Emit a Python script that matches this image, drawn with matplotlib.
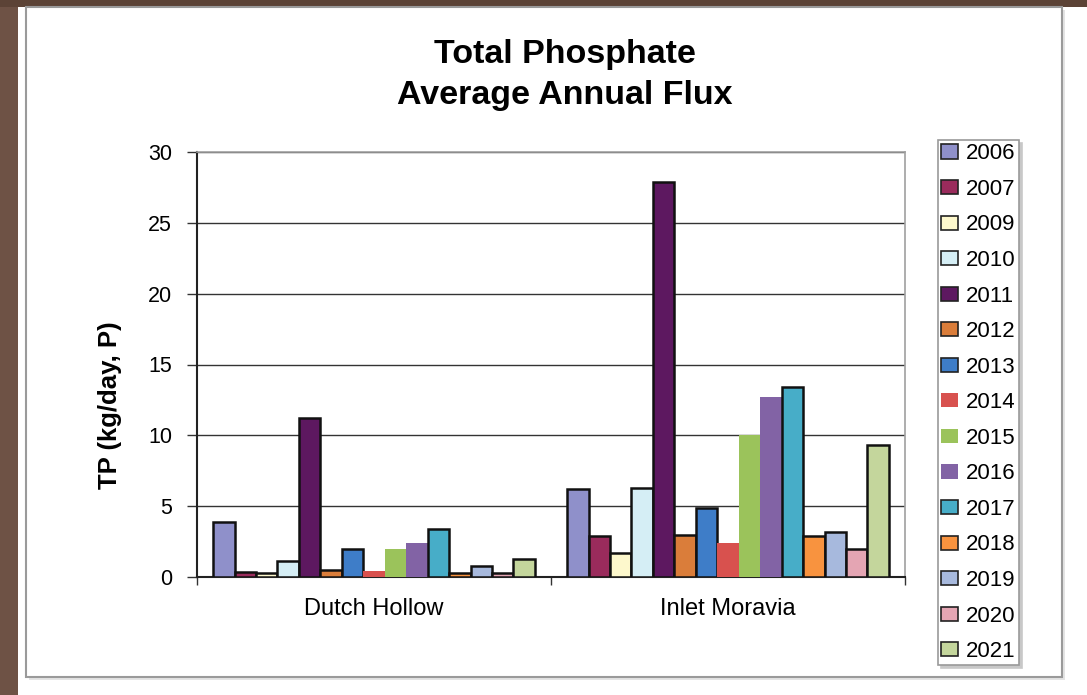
import numpy as np
import matplotlib
matplotlib.use('agg')
import matplotlib.pyplot as plt
from matplotlib.patches import Rectangle, Patch

plt.rcParams['font.family'] = ['Liberation Sans', 'DejaVu Sans']

# data
sites = ["Dutch Hollow", "Inlet Moravia"]
years = ["2006", "2007", "2009", "2010", "2011", "2012", "2013", "2014",
         "2015", "2016", "2017", "2018", "2019", "2020", "2021"]
dutch_hollow = [3.9, 0.35, 0.3, 1.1, 11.2, 0.5, 2.0, 0.45, 2.0, 2.4, 3.4, 0.25, 0.8, 0.25, 1.3]
inlet_moravia = [6.2, 2.9, 1.7, 6.3, 27.9, 3.0, 4.9, 2.4, 10.0, 12.7, 13.4, 2.9, 3.2, 2.0, 9.3]

colors = ["#8F90CA", "#9A2B5C", "#FDF8CC", "#D5EEF5", "#5D1860", "#DA7D3A",
          "#3E7DC8", "#D8514E", "#9BC35B", "#8263A5", "#47ADC8", "#F8933F",
          "#A7B9DD", "#E4A5B3", "#C4D69C"]
# series drawn without a dark outline in the reference
no_edge = {"2014", "2015", "2016"}

W, H = 1087, 695
fig = plt.figure(figsize=(W / 100, H / 100), dpi=100)
fig.patch.set_facecolor("white")

def px_rect(x0, y0, x1, y1, **kw):
    # rectangle given in pixel coords (top-left origin)
    r = Rectangle((x0 / W, 1 - y1 / H), (x1 - x0) / W, (y1 - y0) / H,
                  transform=fig.transFigure, zorder=0, **kw)
    fig.patches.append(r)

# brown page background strips
px_rect(0, 0, 18, H, facecolor="#6E5245", edgecolor="none")
px_rect(0, 0, W, 7, facecolor="#5C4336", edgecolor="none")
# chart frame with a light shadow
px_rect(29, 10, 1065, 680, facecolor="#e4e4e4", edgecolor="none")
px_rect(26, 7, 1062, 677, facecolor="white", edgecolor="#9a9a9a", linewidth=1.5)

ax = fig.add_axes([197 / W, 1 - 577 / H, (905 - 197) / W, (577 - 152) / H])
ax.set_zorder(2)
ax.set_facecolor("white")

n = len(years)
bw = 0.0606
x = np.arange(len(sites))
for i, yr in enumerate(years):
    vals = [dutch_hollow[i], inlet_moravia[i]]
    ec = "none" if yr in no_edge else "#111111"
    ax.bar(x + (i - (n - 1) / 2) * bw, vals, width=bw, color=colors[i],
           edgecolor=ec, linewidth=1.8, zorder=3)

ax.set_xlim(-0.5, 1.5)
ax.set_ylim(0, 30)
ax.set_yticks(np.arange(0, 31, 5))
ax.yaxis.grid(True, color="#333333", linewidth=1.0, zorder=0)
ax.set_axisbelow(True)
ax.set_xticks(x)
ax.set_xticklabels(sites, fontsize=17)
ax.set_xticks([-0.5, 0.5, 1.5], minor=True)
ax.tick_params(axis="x", which="major", length=0, pad=15)
ax.tick_params(axis="x", which="minor", length=6, width=1, color="#333333")
ax.tick_params(axis="y", length=7, width=1, color="#333333", labelsize=15.5, pad=11)

for s in ["left", "bottom"]:
    ax.spines[s].set_color("#222222")
    ax.spines[s].set_linewidth(1.5)
for s in ["top", "right"]:
    ax.spines[s].set_color("#a0a0a0")
    ax.spines[s].set_linewidth(1.2)

fig.text(110 / W, 1 - 405 / H, "TP (kg/day, P)", rotation=90, ha="center",
         va="center", fontsize=18.5, fontweight="bold", zorder=3)
fig.text(565 / W, 1 - 63 / H, "Total Phosphate", ha="center", va="baseline",
         fontsize=24.5, fontweight="bold", zorder=3)
fig.text(565 / W, 1 - 104 / H, "Average Annual Flux", ha="center", va="baseline",
         fontsize=24.5, fontweight="bold", zorder=3)

handles = [Patch(facecolor=colors[i],
                 edgecolor=("none" if yr in no_edge else "#222222"),
                 linewidth=1.2, label=yr) for i, yr in enumerate(years)]
leg = fig.legend(handles=handles, loc="upper left",
                 bbox_to_anchor=(938 / W, 1 - 140 / H), fontsize=16,
                 handlelength=0.75, handleheight=0.6, handletextpad=0.35,
                 labelspacing=0.655, borderpad=0.15, borderaxespad=0,
                 fancybox=False, framealpha=1,
                 shadow={"color": "#c8c8c8", "alpha": 1})
leg.set_zorder(3)
leg.get_frame().set_edgecolor("#9a9a9a")
leg.get_frame().set_linewidth(1.2)

fig.savefig("out.png", dpi=100)
